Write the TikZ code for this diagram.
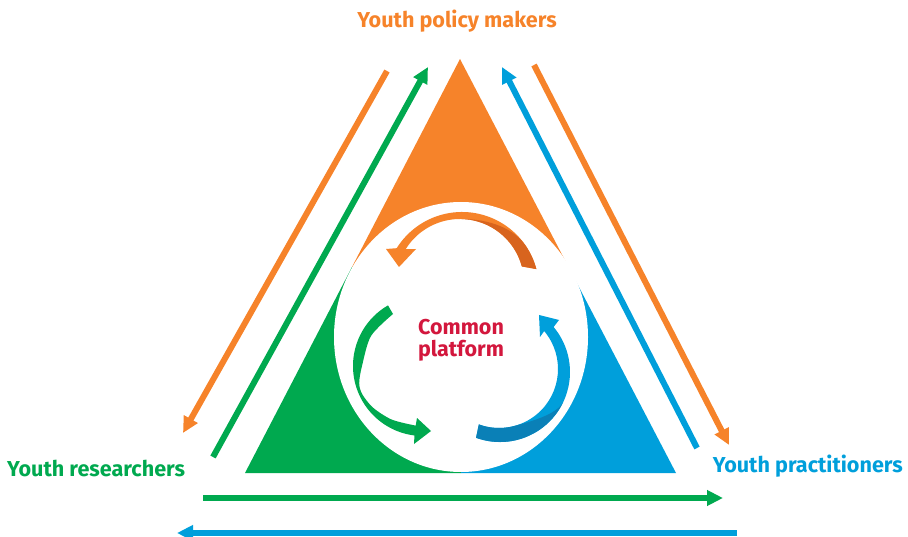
\documentclass[tikz,border=0pt]{standalone}
\usepackage{fontspec}
\setmainfont{Fira Sans}
\usetikzlibrary{arrows.meta,calc}
\definecolor{ypOrange}{HTML}{F6832A}
\definecolor{ypOrangeDk}{HTML}{D8641E}
\definecolor{ypGreen}{HTML}{00A94F}
\definecolor{ypBlue}{HTML}{009FDB}
\definecolor{ypBlueDk}{HTML}{0A80B7}
\definecolor{ypRed}{HTML}{D3173D}

\begin{document}
\begin{tikzpicture}[x=1pt, y=-1pt,
  flow/.style={line width=6pt, -{Triangle[length=16pt, width=15pt]}},
  role/.style={font=\fontsize{21.6}{23}\selectfont\bfseries, inner sep=0pt},
]
\useasboundingbox (0,0) rectangle (908,537);

% triangle in three parts, white platform on top
\fill[ypOrange] (460,59) -- (352,267) -- (568.5,267) -- cycle;
\fill[ypGreen] (352,267) -- (245,473) -- (461,473) -- (461,267) -- cycle;
\fill[ypBlue] (461,267) -- (461,473) -- (676,473) -- (568.5,267) -- cycle;
\fill[white] (461,337) ellipse [x radius=127, y radius=135];

% end points of the long arrows
\coordinate (mr1) at (387,71);  \coordinate (mr2) at (183,433);
\coordinate (rm1) at (213,457); \coordinate (rm2) at (428,67);
\coordinate (pm1) at (697,448); \coordinate (pm2) at (502,67);
\coordinate (mp1) at (534,65);  \coordinate (mp2) at (729,445);
\coordinate (rp1) at (203,498); \coordinate (rp2) at (723,498);
\coordinate (pr1) at (737,533); \coordinate (pr2) at (177,533);

\draw[flow, ypOrange] (mr1) -- (mr2);
\draw[flow, ypGreen]  (rm1) -- (rm2);
\draw[flow, ypBlue]   (pm1) -- (pm2);
\draw[flow, ypOrange] (mp1) -- (mp2);
\draw[flow, ypGreen]  (rp1) -- (rp2);
\draw[flow, ypBlue]   (pr1) -- (pr2);

% curved arrows around the platform
\fill[ypOrange] ($(462,289)+(-15:77)$) arc[start angle=-15, end angle=-148, radius=77]
  -- (386,249) -- (399,267) -- (416,249)
  -- ($(460,283)+(-148:64)$) arc[start angle=-148, end angle=-15, radius=64] -- cycle;
\fill[ypOrangeDk] ($(460,283)+(-15:64)$) arc[start angle=-15, end angle=-88, radius=64]
  .. controls (490,219) and (514,229) .. ($(462,289)+(-35:77)$)
  arc[start angle=-35, end angle=-15, radius=77] -- cycle;

\fill[ypGreen] ($(423,366)+(240:70)$) arc[start angle=240, end angle=97, radius=70]
  -- (414,444) -- (431,431) -- (417,418)
  -- plot[smooth] coordinates {(415.7,425.6) (392,419.7) (373.2,407.8) (362.3,394.3)
     (359.2,383.1) (362,366) (371,336) (393,314)} -- cycle;

\fill[ypBlue] ($(500,372)+(110:70)$) arc[start angle=110, end angle=-40, radius=70]
  -- (559,320) -- (539,315) -- (540,337)
  -- ($(499,369)+(-40:59)$) arc[start angle=-40, end angle=110, radius=59] -- cycle;
\fill[ypBlueDk] ($(500,372)+(110:70)$) arc[start angle=110, end angle=25, radius=70]
  .. controls (557.4,414.6) and (529.3,422) .. ($(499,369)+(75:59)$)
  arc[start angle=75, end angle=110, radius=59] -- cycle;

% labels
\node[role, text=ypOrange] (makers) at (457,21) {Youth policy makers};
\node[role, text=ypGreen, anchor=west] (researchers) at (7,468) {Youth researchers};
\node[role, text=ypBlue, anchor=east] (practitioners) at (903,466) {Youth practitioners};
\node[font=\fontsize{21.5}{22}\selectfont\bfseries, text=ypRed, align=center] (platform) at (461,340) {Common\\platform};
\end{tikzpicture}
\end{document}
